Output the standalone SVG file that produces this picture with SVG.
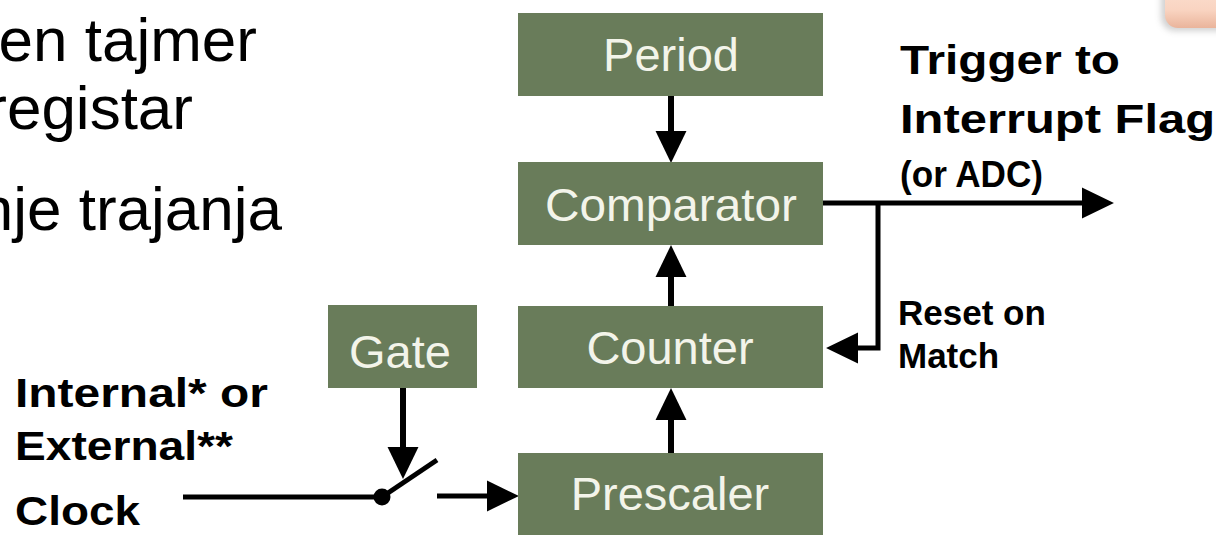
<svg xmlns="http://www.w3.org/2000/svg" width="1216" height="535" viewBox="0 0 1216 535">
  <style>
    .box { fill: #697c5a; }
    .boxtxt { font-family: "Liberation Sans", Arial, sans-serif; font-size: 47px; fill: #f3f4ea; text-anchor: middle; }
    .lbl { font-family: "Liberation Sans", Arial, sans-serif; font-weight: bold; fill: #000; }
    .body { font-family: "Liberation Sans", Arial, sans-serif; font-size: 62px; fill: #000; text-anchor: end; }
    .wire { fill: none; stroke: #000; stroke-width: 6; stroke-linejoin: miter; }
    .wire.thin { stroke-width: 5; }
  </style>
  <defs>
    <marker id="head" markerUnits="userSpaceOnUse" markerWidth="32" markerHeight="32" viewBox="0 0 31 30" refX="1" refY="15" orient="auto">
      <path d="M0,0 L31,15 L0,30 Z" fill="#000"/>
    </marker>
    <linearGradient id="peach" x1="0" y1="0" x2="0" y2="1">
      <stop offset="0" stop-color="#fde8dc"/>
      <stop offset="0.7" stop-color="#f9d4c1"/>
      <stop offset="1" stop-color="#eab49b"/>
    </linearGradient>
    <filter id="soft" x="-30%" y="-30%" width="160%" height="160%">
      <feGaussianBlur stdDeviation="3"/>
    </filter>
  </defs>

  <rect width="1216" height="535" fill="#fff"/>

  <!-- corner of a callout panel at the top right -->
  <g id="callout">
    <rect x="1161" y="-30" width="90" height="61" rx="14" fill="#9a9a9a" opacity="0.45" filter="url(#soft)"/>
    <rect x="1165" y="-32" width="90" height="60" rx="13" fill="url(#peach)"/>
  </g>

  <!-- slide body text, running off the left edge -->
  <g id="body-text">
    <text class="body" x="257" y="61">en tajmer</text>
    <text class="body" x="193" y="129">registar</text>
    <text class="body" x="282" y="230">nje trajanja</text>
  </g>

  <!-- connectors -->
  <g id="connectors">
    <path class="wire" d="M671,96 V132" marker-end="url(#head)"/>
    <path class="wire" d="M671,306 V276" marker-end="url(#head)"/>
    <path class="wire" d="M671,453 V419" marker-end="url(#head)"/>
    <path class="wire" d="M403,388 V448" marker-end="url(#head)"/>
    <path class="wire thin" d="M183,497 H382"/>
    <path class="wire thin" d="M382,497 L437,460"/>
    <circle cx="382" cy="497" r="8.5" fill="#000"/>
    <path class="wire thin" d="M437,496 H488" marker-end="url(#head)"/>
    <path class="wire thin" d="M823,203 H1083" marker-end="url(#head)"/>
    <path class="wire thin" d="M878,203 V348 H857" marker-end="url(#head)"/>
  </g>

  <!-- blocks -->
  <g id="period">
    <rect class="box" x="518" y="13" width="305" height="83"/>
    <text class="boxtxt" x="671" y="71">Period</text>
  </g>
  <g id="comparator">
    <rect class="box" x="518" y="162" width="305" height="83"/>
    <text class="boxtxt" x="671" y="221" textLength="252" lengthAdjust="spacingAndGlyphs">Comparator</text>
  </g>
  <g id="counter">
    <rect class="box" x="518" y="306" width="305" height="82"/>
    <text class="boxtxt" x="670" y="364">Counter</text>
  </g>
  <g id="prescaler">
    <rect class="box" x="518" y="453" width="305" height="84"/>
    <text class="boxtxt" x="670" y="510">Prescaler</text>
  </g>
  <g id="gate">
    <rect class="box" x="328" y="305" width="149" height="83"/>
    <text class="boxtxt" x="400" y="368" font-size="48">Gate</text>
  </g>

  <!-- signal labels -->
  <g id="clock-label">
    <text class="lbl" x="15" y="407" font-size="41" textLength="253" lengthAdjust="spacingAndGlyphs">Internal*  or</text>
    <text class="lbl" x="15" y="460" font-size="41" textLength="218" lengthAdjust="spacingAndGlyphs">External**</text>
    <text class="lbl" x="15" y="525" font-size="41" textLength="125" lengthAdjust="spacingAndGlyphs">Clock</text>
  </g>
  <g id="trigger-label">
    <text class="lbl" x="900" y="74" font-size="41" textLength="220" lengthAdjust="spacingAndGlyphs">Trigger to</text>
    <text class="lbl" x="900" y="133" font-size="41" textLength="315" lengthAdjust="spacingAndGlyphs">Interrupt  Flag</text>
    <text class="lbl" x="900" y="187" font-size="36" textLength="143" lengthAdjust="spacingAndGlyphs">(or ADC)</text>
  </g>
  <g id="reset-label">
    <text class="lbl" x="898" y="325" font-size="35">Reset on</text>
    <text class="lbl" x="898" y="368" font-size="35">Match</text>
  </g>
</svg>
